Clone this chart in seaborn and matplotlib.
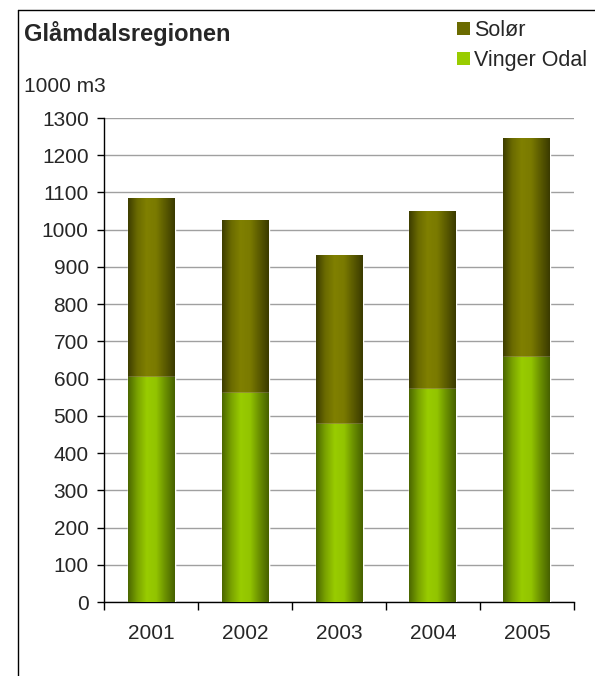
import numpy as np
import pandas as pd
import seaborn as sns
import matplotlib.pyplot as plt
from matplotlib.colors import LinearSegmentedColormap
from matplotlib.patches import Patch
from matplotlib.lines import Line2D

sns.set_style("white")
plt.rcParams["font.family"] = ["Liberation Sans", "DejaVu Sans"]

# data (1000 m3)
years = ["2001", "2002", "2003", "2004", "2005"]
vinger_odal = [604, 561, 478, 572, 658]
solor = [481, 465, 454, 478, 588]

df = pd.DataFrame({"Year": years, "Vinger Odal": vinger_odal, "Solør": solor})
df["Total"] = df["Vinger Odal"] + df["Solør"]

fig = plt.figure(figsize=(5.95, 6.76), dpi=100)
ax = fig.add_axes([104 / 595, 74 / 676, 470 / 595, 484 / 676])

# stacked: total first (Solør on top), then Vinger Odal
sns.barplot(data=df, x="Year", y="Total", color="#808000", width=0.5, ax=ax, zorder=2)
sns.barplot(data=df, x="Year", y="Vinger Odal", color="#99cc00", width=0.5, ax=ax, zorder=3)

# cylinder-like horizontal gradient clipped to each bar
cm_sol = LinearSegmentedColormap.from_list("sol", ["#3d3d00", "#6b6b00", "#808000", "#7a7a00", "#5a5a00", "#3a3a00"])
cm_vin = LinearSegmentedColormap.from_list("vin", ["#4a6600", "#7aa300", "#99cc00", "#92c400", "#6a8f00", "#466000"])
grad = np.linspace(0, 1, 256).reshape(1, -1)
n = len(years)
for i, p in enumerate(ax.patches):
    cmap = cm_sol if i < n else cm_vin
    x0, y0 = p.get_x(), p.get_y()
    w, h = p.get_width(), p.get_height()
    im = ax.imshow(grad, cmap=cmap, aspect="auto", extent=[x0, x0 + w, y0, y0 + h],
                   zorder=p.get_zorder() + 0.1)
    im.set_clip_path(p)

ax.set_xlim(-0.5, n - 0.5)
ax.set_ylim(0, 1300)
ax.set_yticks(range(0, 1301, 100))
ax.yaxis.grid(True, color="#a0a0a0", linewidth=1)
ax.set_axisbelow(True)
ax.set_xlabel("")
ax.set_ylabel("")

# x ticks between categories, labels centred
ax.set_xticks(np.arange(-0.5, n, 1.0))
ax.set_xticklabels([])
ax.set_xticks(range(n), minor=True)
ax.set_xticklabels(years, minor=True)
ax.tick_params(axis="x", which="major", direction="out", length=6, color="black", width=1)
ax.tick_params(axis="x", which="minor", length=0, pad=16, labelsize=15)
ax.tick_params(axis="y", direction="out", length=5, color="black", width=1, labelsize=15, pad=6)
ax.tick_params(left=True, bottom=True)

for s in ["top", "right"]:
    ax.spines[s].set_visible(False)
for s in ["left", "bottom"]:
    ax.spines[s].set_color("black")
    ax.spines[s].set_linewidth(1)

# texts
fig.text(24 / 595, 1 - 33 / 676, "Glåmdalsregionen", fontsize=17, fontweight="bold", va="center", ha="left")
fig.text(24 / 595, 1 - 86 / 676, "1000 m3", fontsize=15, va="center", ha="left")

handles = [Patch(facecolor="#6b6b00", edgecolor="none", label="Solør"),
           Patch(facecolor="#99cc00", edgecolor="none", label="Vinger Odal")]
fig.legend(handles=handles, loc="upper left", bbox_to_anchor=(457 / 595, 1 - 20 / 676),
           frameon=False, fontsize=15.5, handlelength=0.6, handleheight=0.6,
           handletextpad=0.2, labelspacing=0.42, borderpad=0, borderaxespad=0)

# outer chart frame (left and top edges visible)
fig.add_artist(Line2D([18 / 595, 18 / 595], [0, 1 - 10 / 676], color="black", linewidth=1, transform=fig.transFigure))
fig.add_artist(Line2D([18 / 595, 1], [1 - 10 / 676, 1 - 10 / 676], color="black", linewidth=1, transform=fig.transFigure))

fig.savefig("out.png", dpi=100)
